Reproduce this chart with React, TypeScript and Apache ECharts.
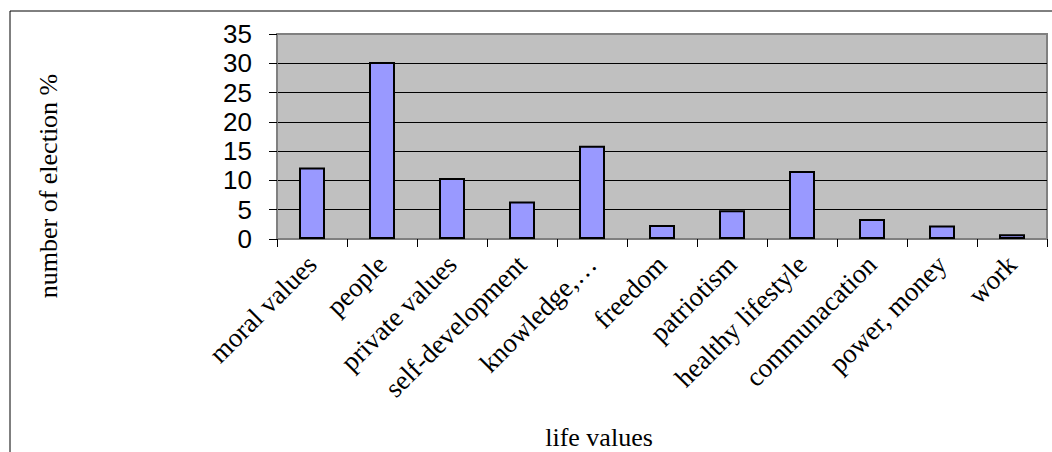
import React, { useEffect, useRef } from "react";
import * as echarts from "echarts";

const categories = [
  "moral values",
  "people",
  "private values",
  "self-development",
  "knowledge,…",
  "freedom",
  "patriotism",
  "healthy lifestyle",
  "communacation",
  "power, money",
  "work",
];
const values = [12.2, 30.2, 10.4, 6.4, 15.9, 2.4, 4.9, 11.6, 3.4, 2.3, 0.8];
const yTitle = "number of election %";
const xTitle = "life values";

export default function App() {
  const ref = useRef<HTMLDivElement>(null);
  useEffect(() => {
    document.body.style.margin = "0";
    const chart = echarts.init(ref.current!, undefined, { renderer: "svg" });
    chart.setOption({
      animation: false,
      backgroundColor: "#ffffff",
      grid: {
        left: 277,
        top: 34,
        width: 770,
        height: 205,
        show: true,
        backgroundColor: "#C0C0C0",
        borderColor: "#808080",
        borderWidth: 2,
      },
      xAxis: {
        type: "category",
        data: categories,
        axisLine: { show: true, lineStyle: { color: "#808080", width: 2 } },
        axisTick: { show: true, length: 8, lineStyle: { color: "#000", width: 1 } },
        axisLabel: {
          rotate: 45,
          interval: 0,
          margin: 21,
          fontFamily: "Liberation Serif",
          fontSize: 27,
          color: "#000",
        },
      },
      yAxis: {
        type: "value",
        min: 0,
        max: 35,
        interval: 5,
        axisLine: { show: true, lineStyle: { color: "#808080", width: 2 } },
        axisTick: { show: true, length: 8, lineStyle: { color: "#000", width: 1 } },
        axisLabel: {
          margin: 25,
          fontFamily: "Liberation Sans",
          fontSize: 26,
          color: "#000",
        },
        splitLine: {
          show: true,
          showMinLine: false,
          showMaxLine: false,
          lineStyle: { color: "#000", width: 1 },
        },
      },
      series: [
        {
          type: "bar",
          data: values,
          barWidth: 26,
          itemStyle: { color: "#9999FF", borderColor: "#000", borderWidth: 2 },
        },
      ],
      graphic: [
        {
          type: "line",
          shape: { x1: 10, y1: 11, x2: 1052, y2: 11 },
          style: { stroke: "#000", lineWidth: 1 },
        },
        {
          type: "line",
          shape: { x1: 10, y1: 11, x2: 10, y2: 452 },
          style: { stroke: "#000", lineWidth: 1 },
        },
        {
          type: "text",
          x: 48,
          y: 186,
          rotation: Math.PI / 2,
          style: {
            text: yTitle,
            fontFamily: "Liberation Serif",
            fontSize: 26,
            fill: "#000",
            align: "center",
            verticalAlign: "middle",
          },
        },
        {
          type: "text",
          x: 599,
          y: 437,
          style: {
            text: xTitle,
            fontFamily: "Liberation Serif",
            fontSize: 26,
            fill: "#000",
            align: "center",
            verticalAlign: "middle",
          },
        },
      ],
    });
    return () => chart.dispose();
  }, []);
  return (
    <div
      ref={ref}
      style={{ position: "absolute", left: 0, top: 0, width: 1052, height: 452 }}
    />
  );
}
